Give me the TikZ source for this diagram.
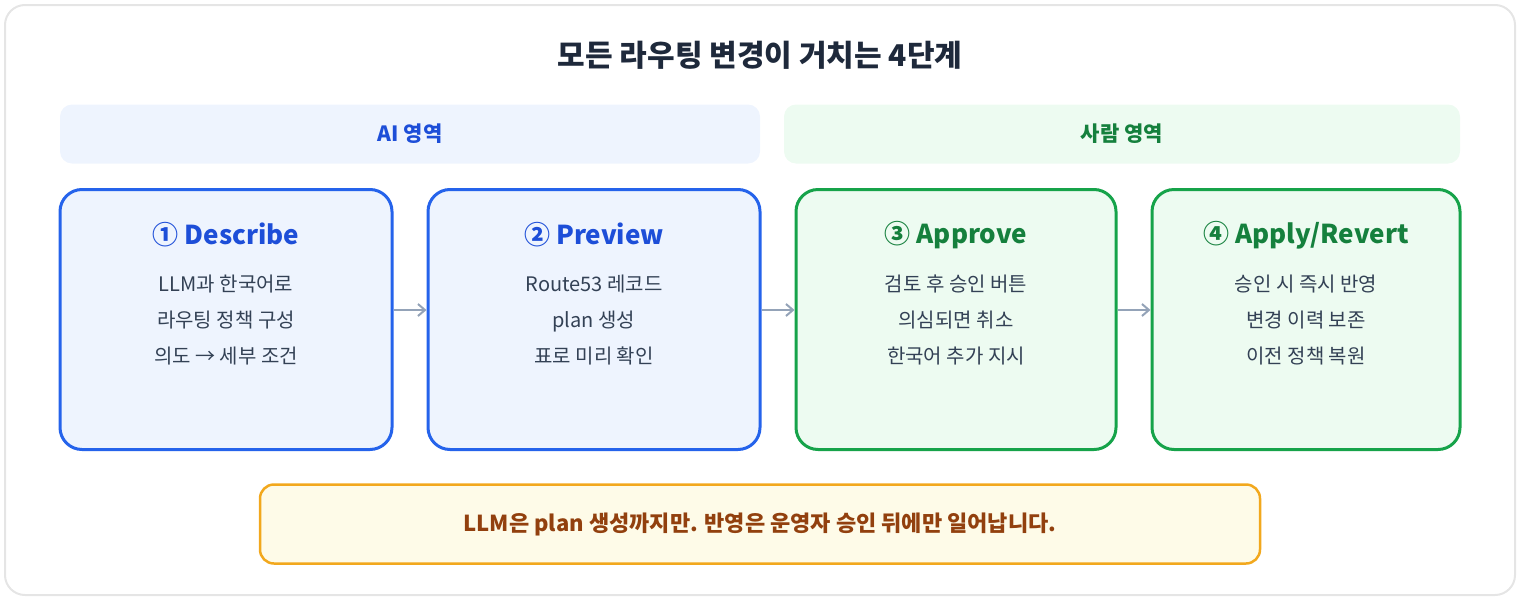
\documentclass[tikz,border=0pt]{standalone}
\usepackage{fontspec}
\setmainfont{Noto Sans CJK KR}
\usetikzlibrary{positioning,arrows.meta}
\definecolor{aiblue}{HTML}{2563EB}
\definecolor{aitext}{HTML}{1D4ED8}
\definecolor{aifill}{HTML}{EEF4FE}
\definecolor{hgreen}{HTML}{16A34A}
\definecolor{htext}{HTML}{15803D}
\definecolor{hfill}{HTML}{EDFBF1}
\definecolor{notefill}{HTML}{FEFBE8}
\definecolor{notedraw}{HTML}{F2A81D}
\definecolor{notetext}{HTML}{92400E}
\definecolor{titletext}{HTML}{1E293B}
\definecolor{bodytext}{HTML}{334155}
\definecolor{arrowgray}{HTML}{94A3B8}
\tikzset{
  band/.style={rounded corners=12pt,minimum height=59pt,font=\fontsize{21}{24}\selectfont\bfseries},
  stagebox/.style={rounded corners=22pt,line width=3pt,minimum height=260pt,anchor=north},
  steptitle/.style={font=\fontsize{26}{30}\selectfont\bfseries},
  stepbody/.style={font=\fontsize{20}{36}\selectfont,text=bodytext,align=center},
  link/.style={-{Straight Barb[length=7pt,width=12pt]},arrowgray,line width=2pt}
}
\begin{document}
\begin{tikzpicture}[x=1pt,y=-1pt]
                    % Frame
                    \draw[rounded corners=20pt,color=gray!20,line width=2pt] (5,5) rectangle (1515,595);
                    \useasboundingbox (0,0) rectangle (1520,600);
                    \node[font=\fontsize{30}{34}\selectfont\bfseries,text=titletext] (T) at (760,55) {모든 라우팅 변경이 거치는 4단계};
                    % Bands
                    \node[band,fill=aifill,text=aitext,minimum width=700pt] (AI) at (410,134) {AI 영역};
                    \node[band,fill=hfill,text=htext,minimum width=676pt] (HU) at (1122,134) {사람 영역};
                    % Steps
                    \node[stagebox,draw=aiblue,fill=aifill,minimum width=332pt] (S1) at (226,188) {};
                    \node[stagebox,draw=aiblue,fill=aifill,minimum width=332pt] (S2) at (594,188) {};
                    \node[stagebox,draw=hgreen,fill=hfill,minimum width=320pt] (S3) at (956,188) {};
                    \node[stagebox,draw=hgreen,fill=hfill,minimum width=308pt] (S4) at (1306,188) {};
                    % Texts
                    \node[steptitle,text=aitext] (S1T) at (226,235) {① Describe};
                    \node[stepbody] (S1B) at (226,320) {LLM과 한국어로\\라우팅 정책 구성\\의도 → 세부 조건};
                    \node[steptitle,text=aitext] (S2T) at (594,235) {② Preview};
                    \node[stepbody] (S2B) at (594,320) {Route53 레코드\\plan 생성\\표로 미리 확인};
                    \node[steptitle,text=htext] (S3T) at (956,235) {③ Approve};
                    \node[stepbody] (S3B) at (956,320) {검토 후 승인 버튼\\의심되면 취소\\한국어 추가 지시};
                    \node[steptitle,text=htext] (S4T) at (1306,235) {④ Apply/Revert};
                    \node[stepbody] (S4B) at (1306,320) {승인 시 즉시 반영\\변경 이력 보존\\이전 정책 복원};
                    % Links
                    \draw[link] (S1.east |- 0,310) -- (S2.west |- 0,310);
                    \draw[link] (S2.east |- 0,310) -- (S3.west |- 0,310);
                    \draw[link] (S3.east |- 0,310) -- (S4.west |- 0,310);
                    % Note
                    \node[draw=notedraw,fill=notefill,line width=2.5pt,rounded corners=14pt,minimum width=1000pt,minimum height=79pt,text=notetext,font=\fontsize{22}{26}\selectfont\bfseries] (N) at (760,524) {LLM은 plan 생성까지만. 반영은 운영자 승인 뒤에만 일어납니다.};
\end{tikzpicture}
\end{document}
